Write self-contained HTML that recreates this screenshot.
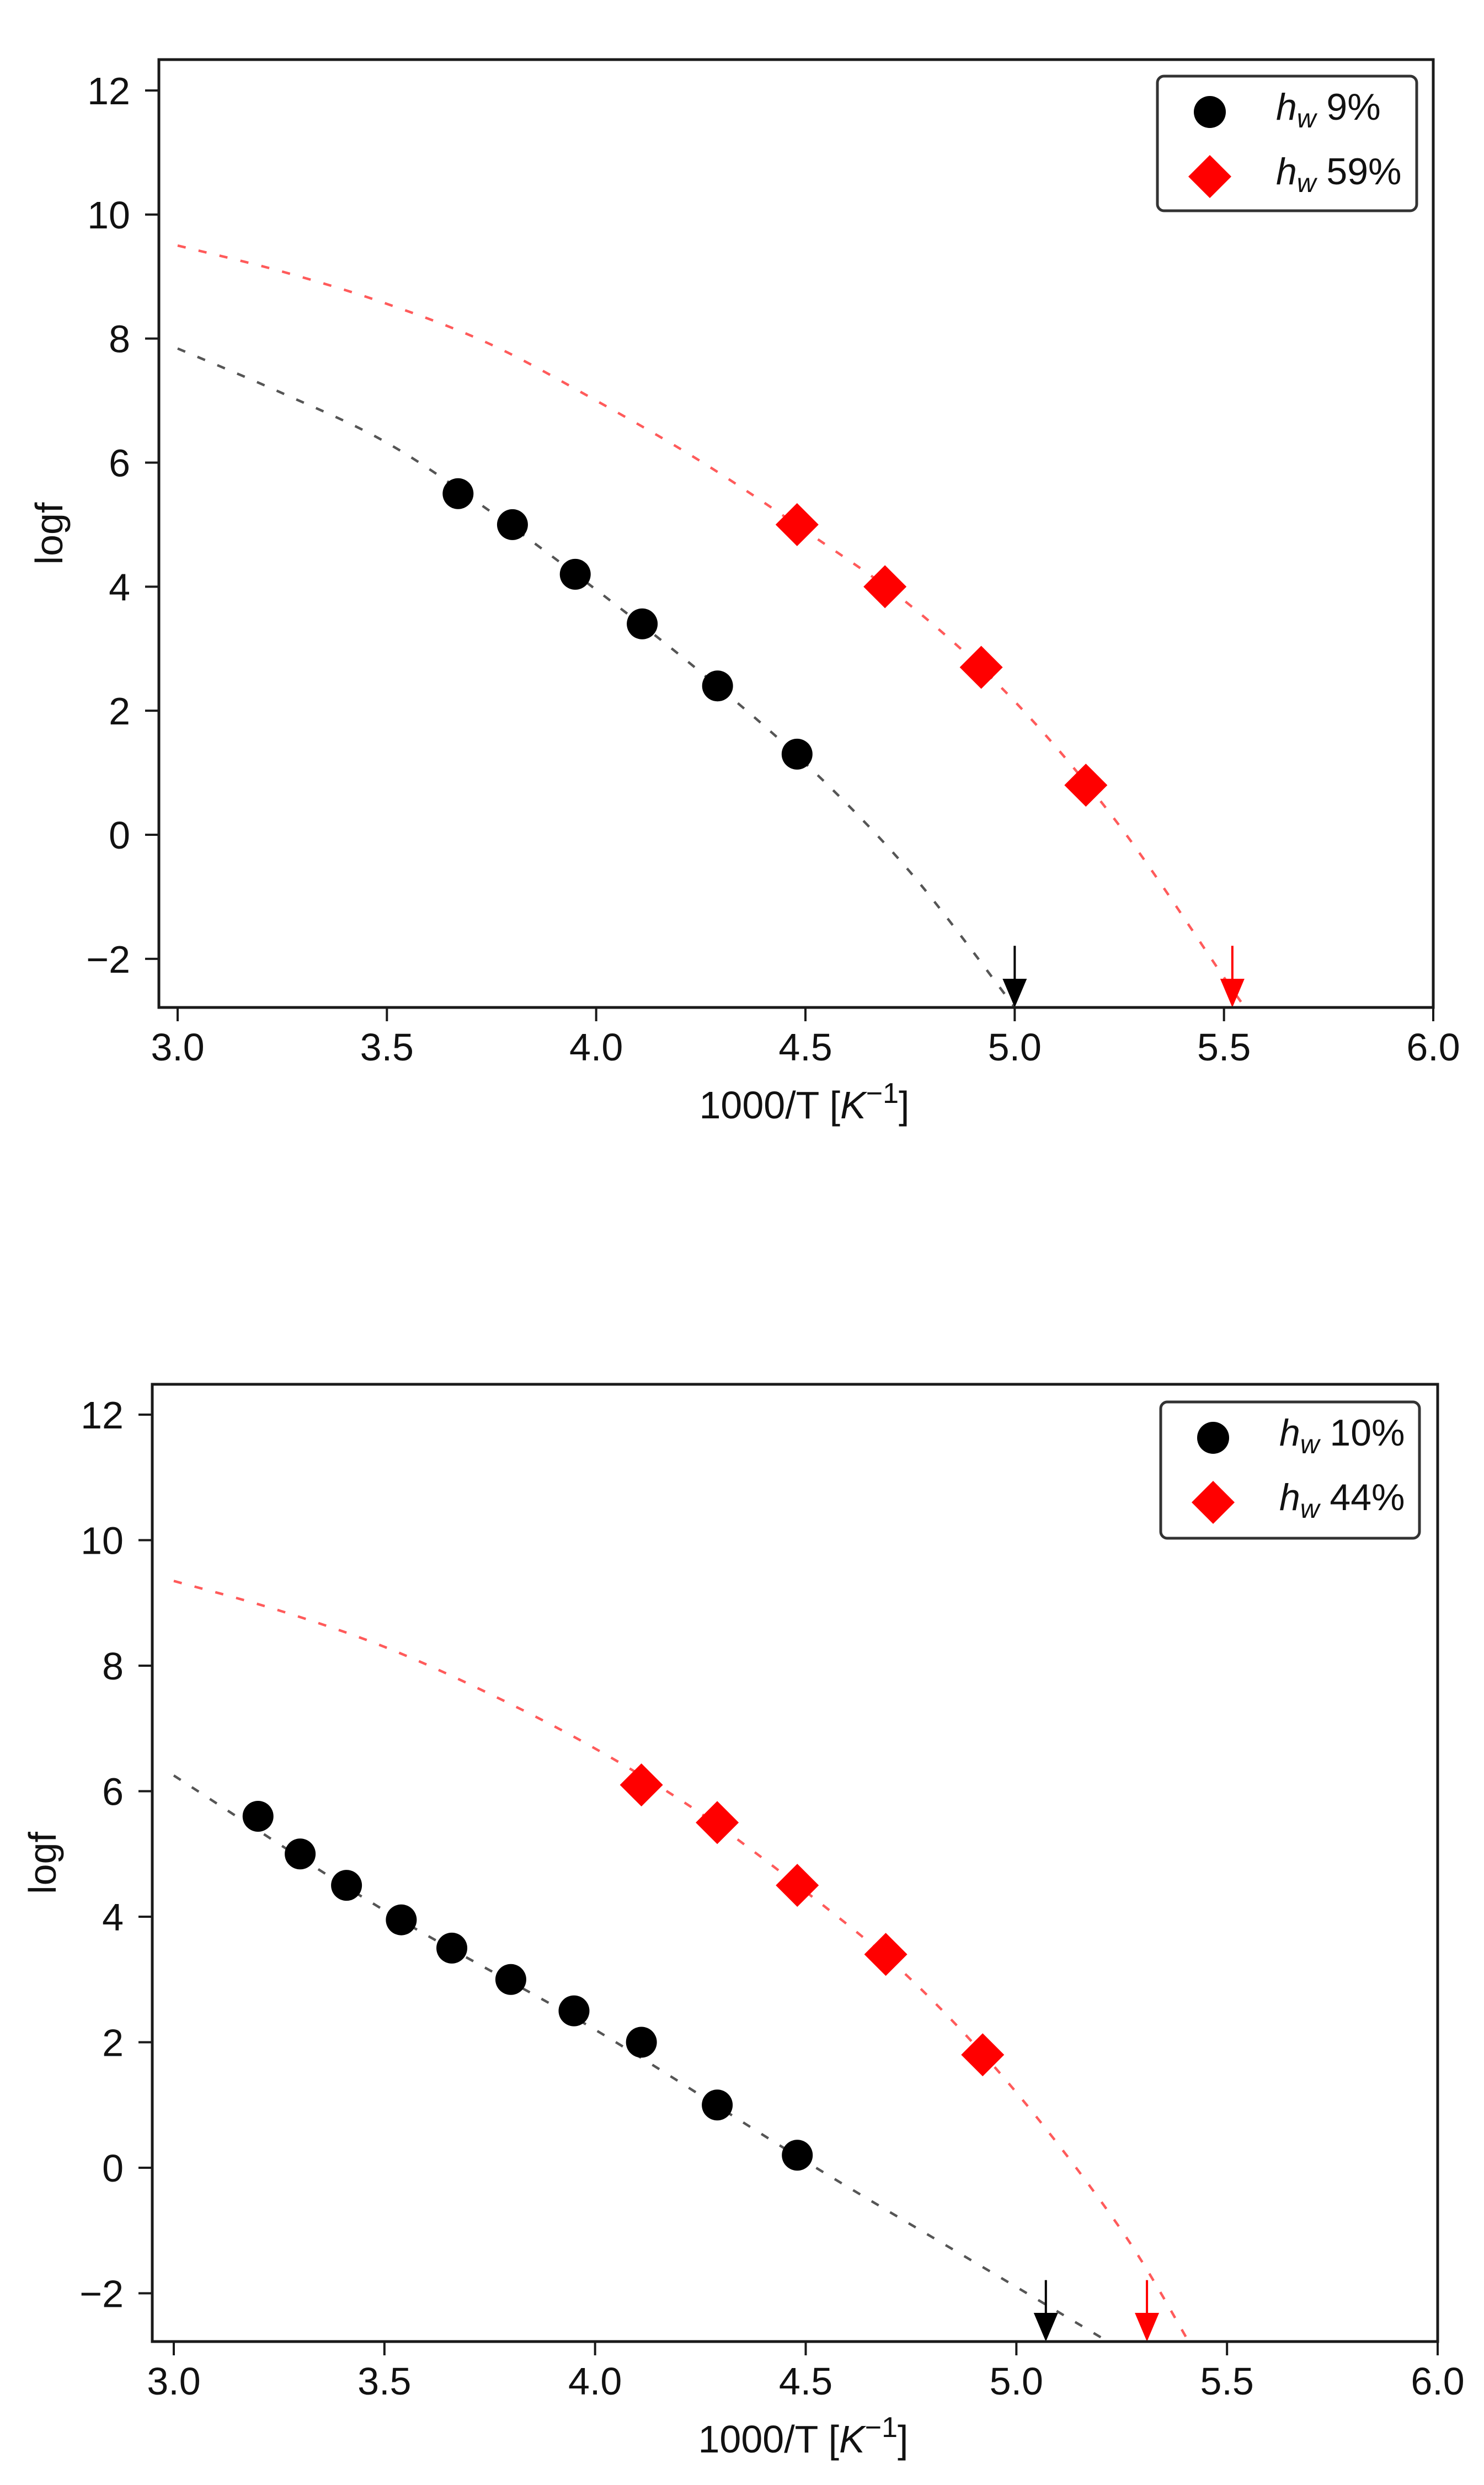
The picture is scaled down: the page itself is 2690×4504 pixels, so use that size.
<!DOCTYPE html>
<html><head><meta charset="utf-8">
<style>
html,body{margin:0;padding:0;background:#fff;}
svg{display:block;}
text{font-family:"Liberation Sans",Arial,sans-serif;fill:#111;}
</style></head>
<body>
<svg id="fig" width="2690" height="4504" viewBox="0 0 2690 4504" xmlns="http://www.w3.org/2000/svg"></svg>
<script>
// ---- data: top panel ----
const xTicks = [3.0,3.5,4.0,4.5,5.0,5.5,6.0];
const xTickLabels = ["3.0","3.5","4.0","4.5","5.0","5.5","6.0"];
const yTicks = [-2,0,2,4,6,8,10,12];
const yTickLabels = ["\u22122","0","2","4","6","8","10","12"];

const topBlackX = [3.67,3.80,3.95,4.11,4.29,4.48];
const topBlackY = [5.5,5.0,4.2,3.4,2.4,1.3];
const topRedX = [4.48,4.69,4.92,5.17];
const topRedY = [5.0,4.0,2.7,0.8];
const topBlackFitX = [3.0,3.25,3.5,3.75,4.0,4.25,4.5,4.75,5.0];
const topBlackFitY = [7.84,7.12,6.32,5.2,3.95,2.62,1.15,-0.6,-2.78];
const topRedFitX = [3.0,3.25,3.5,3.75,4.0,4.25,4.5,4.75,5.0,5.25,5.5,5.55];
const topRedFitY = [9.5,9.08,8.56,7.9,7.0,6.02,4.9,3.7,2.15,0.15,-2.3,-2.78];
const topArrowsX = [5.0,5.52];
const topLegend = ["9%","59%"];

// ---- data: bottom panel ----
const botBlackX = [3.2,3.3,3.41,3.54,3.66,3.80,3.95,4.11,4.29,4.48];
const botBlackY = [5.6,5.0,4.5,3.95,3.5,3.0,2.5,2.0,1.0,0.2];
const botRedX = [4.11,4.29,4.48,4.69,4.92];
const botRedY = [6.1,5.5,4.5,3.4,1.8];
const botBlackFitX = [3.0,3.5,4.0,4.5,5.0,5.22];
const botBlackFitY = [6.25,4.1,2.2,0.1,-1.9,-2.78];
const botRedFitX = [3.0,3.25,3.5,3.75,4.0,4.25,4.5,4.75,5.0,5.25,5.41];
const botRedFitY = [9.35,8.88,8.3,7.55,6.68,5.65,4.4,3.0,1.2,-1.0,-2.78];
const botArrowsX = [5.07,5.31];
const botLegend = ["10%","44%"];

const NS="http://www.w3.org/2000/svg";
const svg=document.getElementById('fig');
function mk(tag,attrs,parent){const e=document.createElementNS(NS,tag);for(const k in attrs)e.setAttribute(k,attrs[k]);(parent||svg).appendChild(e);return e;}

function smoothPath(pts){
  let d="M"+pts[0][0]+","+pts[0][1];
  for(let i=0;i<pts.length-1;i++){
    const p0=pts[i-1]||pts[i],p1=pts[i],p2=pts[i+1],p3=pts[i+2]||pts[i+1];
    const c1=[p1[0]+(p2[0]-p0[0])/6,p1[1]+(p2[1]-p0[1])/6];
    const c2=[p2[0]-(p3[0]-p1[0])/6,p2[1]-(p3[1]-p1[1])/6];
    d+=" C"+c1[0]+","+c1[1]+" "+c2[0]+","+c2[1]+" "+p2[0]+","+p2[1];
  }
  return d;
}

function panel(id,box,xmap,ymap,blackX,blackY,redX,redY,bfX,bfY,rfX,rfY,arrowsX,legend,leg){
  const g=mk('g',{});
  
  
  const sx=v=>xmap[0]+(v-3)*(xmap[1]-xmap[0])/3;
  const sy=v=>ymap[1]-v*(ymap[1]-ymap[0])/12;
  const clipId=id+"-clip";
  const cp=mk('clipPath',{id:clipId},g);
  mk('rect',{x:box.L,y:box.T,width:box.R-box.L,height:box.B-box.T},cp);
  const bpts=bfX.map((x,i)=>[sx(x),sy(bfY[i])]);
  const bl=mk('path',{d:smoothPath(bpts),fill:'none',stroke:'#555',"stroke-width":4.5,"stroke-dasharray":"15 24","clip-path":"url(#"+clipId+")"},g);
  
  
  const rpts=rfX.map((x,i)=>[sx(x),sy(rfY[i])]);
  const rl=mk('path',{d:smoothPath(rpts),fill:'none',stroke:'#ff5a5a',"stroke-width":4.5,"stroke-dasharray":"15 24","clip-path":"url(#"+clipId+")"},g);
  
  
  blackX.forEach((x,i)=>{
    const c=mk('circle',{cx:sx(x),cy:sy(blackY[i]),r:28,fill:'#000'},g);
    
    
  });
  redX.forEach((x,i)=>{
    const cx=sx(x),cy=sy(redY[i]),h=39;
    const p=mk('polygon',{points:`${cx},${cy-h} ${cx+h},${cy} ${cx},${cy+h} ${cx-h},${cy}`,fill:'#ff0000'},g);
    
    
  });
  arrowsX.forEach((x,i)=>{
    const col=i===0?'#000':'#ff0000';
    const ax=sx(x),y0=sy(-1.79),y1=box.B;
    const a=mk('g',{},g);
    
    
    mk('line',{x1:ax,y1:y0,x2:ax,y2:y1-40,stroke:col,"stroke-width":4},a);
    mk('polygon',{points:`${ax-22},${y1-52} ${ax+22},${y1-52} ${ax},${y1}`,fill:col},a);
  });
  const fr=mk('rect',{x:box.L,y:box.T,width:box.R-box.L,height:box.B-box.T,fill:'none',stroke:'#1a1a1a',"stroke-width":5},g);
  
  
  xTicks.forEach((v,i)=>{
    const x=sx(v);
    mk('line',{x1:x,y1:box.B,x2:x,y2:box.B+25,stroke:'#1a1a1a',"stroke-width":4},g);
    const t=mk('text',{x:x,y:box.B+96,"font-size":70,"text-anchor":"middle"},g);
    t.textContent=xTickLabels[i];
    
    
  });
  yTicks.forEach((v,i)=>{
    const y=sy(v);
    mk('line',{x1:box.L-25,y1:y,x2:box.L,y2:y,stroke:'#1a1a1a',"stroke-width":4},g);
    const t=mk('text',{x:box.L-52,y:y+25,"font-size":70,"text-anchor":"end"},g);
    t.textContent=yTickLabels[i];
    
    
  });
  const xt=mk('text',{x:(box.L+box.R)/2+15,y:box.B+201,"font-size":70,"text-anchor":"middle"},g);
  xt.innerHTML='1000/T [<tspan font-style="italic">K</tspan><tspan dy="-28" font-size="52">\u22121</tspan><tspan dy="28">]</tspan>';
  
  
  const yc=(box.T+box.B)/2;
  const yt=mk('text',{x:0,y:0,"font-size":70,"text-anchor":"middle",transform:`translate(${box.L-175},${yc}) rotate(-90)`},g);
  yt.textContent='logf';
  
  
  const lg=mk('g',{},g);
  
  
  mk('rect',{x:leg.L,y:leg.T,width:leg.R-leg.L,height:leg.B-leg.T,rx:12,fill:'#fff',stroke:'#333',"stroke-width":5},lg);
  const mx=leg.L+95, r1=leg.T+65, r2=leg.T+182;
  mk('circle',{cx:mx,cy:r1,r:29,fill:'#000'},lg);
  mk('polygon',{points:`${mx},${r2-39} ${mx+39},${r2} ${mx},${r2+39} ${mx-39},${r2}`,fill:'#ff0000'},lg);
  [r1,r2].forEach((ry,i)=>{
    const t=mk('text',{x:leg.L+215,y:ry+14,"font-size":68},lg);
    t.innerHTML='<tspan font-style="italic">h</tspan><tspan font-style="italic" font-size="48" dy="14">w</tspan><tspan dy="-14"> '+legend[i]+'</tspan>';
    
    
  });
}

panel('top-chart',{L:288,R:2598,T:108,B:1826},[322,2598],[164,1513],
  topBlackX,topBlackY,topRedX,topRedY,topBlackFitX,topBlackFitY,topRedFitX,topRedFitY,topArrowsX,topLegend,
  {L:2098,R:2568,T:138,B:382});
panel('bottom-chart',{L:276,R:2606,T:2509,B:4244},[315,2606],[2564,3929],
  botBlackX,botBlackY,botRedX,botRedY,botBlackFitX,botBlackFitY,botRedFitX,botRedFitY,botArrowsX,botLegend,
  {L:2104,R:2573,T:2541,B:2788});
</script>
</body></html>
